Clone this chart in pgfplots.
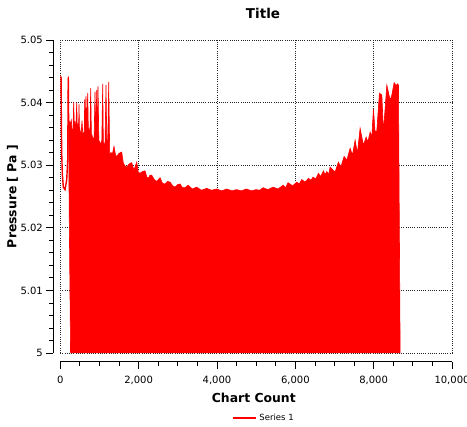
\documentclass[border=0pt]{standalone}
\usepackage{fontspec}
\setmainfont{DejaVu Sans}
\usepackage{pgfplots}
\pgfplotsset{compat=1.18}
\begin{document}
\begin{tikzpicture}
\begin{axis}[
 at={(0,0)}, anchor=south west,
 scale only axis, width=391.7bp, height=313bp,
 xmin=0, xmax=10000, ymin=5, ymax=5.05,
 axis lines*=left,
 axis x line shift=8.7bp, axis y line shift=7bp,
 axis line style={black, line width=0.8bp},
 xtick={0,2000,4000,6000,8000,10000},
 ytick={5,5.01,5.02,5.03,5.04,5.05},
 minor x tick num=3, minor y tick num=4,
 tick align=outside,
 major tick length=7bp, minor tick length=4bp,
 tick style={black, line width=0.8bp},
 grid=major,
 major grid style={black!85, line width=0.8bp, dash pattern=on 1bp off 1.2bp},
 scaled ticks=false,
 /pgf/number format/assume math mode=true,
 xticklabel style={/pgf/number format/1000 sep={,}, font=\fontsize{10bp}{12bp}\selectfont, yshift=-4bp},
 yticklabel style={/pgf/number format/fixed, /pgf/number format/precision=2, font=\fontsize{10bp}{12bp}\selectfont},
 title={Title},
 title style={at={(axis description cs:0.5175,1.067)}, anchor=center, font=\fontsize{13.5bp}{16bp}\selectfont\bfseries},
 xlabel={Chart Count},
 xlabel style={at={(axis description cs:0.494,-0.1438)}, anchor=center, font=\fontsize{12.4bp}{14bp}\selectfont\bfseries},
 ylabel={Pressure [ Pa ]},
 ylabel style={at={(axis description cs:-0.122,0.50)}, anchor=center, font=\fontsize{12.4bp}{14bp}\selectfont\bfseries},
 legend style={at={(axis description cs:0.52,-0.2077)}, anchor=center, draw=none, fill=none, font=\fontsize{8.5bp}{10bp}\selectfont},
 legend image code/.code={\draw[red, line width=2.2bp] (0bp,0bp) -- (23bp,0bp);},
]
\addplot[draw=red, fill=red, line width=0.6bp, forget plot] coordinates {
(262,5.0) (228,5.022) (200,5.0440) (214,5.0441) (222,5.0372) (250,5.0366) (281,5.0372)
(300,5.0356) (325,5.0357) (342,5.0401) (358,5.0360) (375,5.0370) (395,5.0352) (419,5.0400)
(436,5.0356) (452,5.0366) (466,5.0352) (478,5.0397) (492,5.0350) (504,5.0356) (525,5.0344)
(554,5.0371) (575,5.0349) (600,5.0352) (610,5.0348) (623,5.0405) (640,5.0352) (656,5.0410)
(672,5.0355) (700,5.0415) (718,5.0350) (733,5.0356) (755,5.0345) (776,5.0423) (795,5.0345)
(810,5.0348) (840,5.0340) (865,5.0346) (886,5.0417) (905,5.0340) (930,5.0420) (948,5.0338)
(963,5.0426) (985,5.0335) (1001,5.0338) (1030,5.0333) (1060,5.0340) (1083,5.0430) (1100,5.0330)
(1116,5.0334) (1140,5.0328) (1167,5.0428) (1190,5.0325) (1210,5.0330) (1236,5.0433) (1262,5.0318)
(1300,5.0320) (1330,5.0318) (1372,5.0330) (1410,5.0316) (1440,5.0314) (1500,5.0319) (1568,5.0321)
(1610,5.0303) (1650,5.0299) (1696,5.0297) (1760,5.0302) (1824,5.0304) (1880,5.0292) (1951,5.0305)
(1990,5.0289) (2035,5.0287) (2100,5.0290) (2163,5.0291) (2210,5.0281) (2248,5.0279) (2290,5.0284)
(2334,5.0284) (2400,5.0277) (2462,5.0274) (2546,5.0280) (2610,5.0271) (2674,5.0270) (2740,5.0274)
(2802,5.0273) (2870,5.0267) (2929,5.0265) (3000,5.0269) (3057,5.0270) (3120,5.0264) (3185,5.0264)
(3262,5.0268) (3370,5.0262) (3484,5.0265) (3600,5.0260) (3739,5.0263) (3860,5.0260) (3994,5.0262)
(4120,5.0259) (4250,5.0262) (4380,5.0259) (4500,5.0261) (4620,5.0259) (4750,5.0262) (4880,5.0259)
(5000,5.0261) (5090,5.0260) (5177,5.0264) (5300,5.0261) (5432,5.0265) (5560,5.0262) (5688,5.0268)
(5750,5.0264) (5815,5.0272) (5930,5.0267) (6038,5.0273) (6100,5.0270) (6165,5.0277) (6250,5.0273)
(6334,5.0279) (6400,5.0276) (6454,5.0281) (6520,5.0278) (6589,5.0287) (6650,5.0282) (6717,5.0291)
(6760,5.0285) (6804,5.0290) (6850,5.0285) (6888,5.0297) (7016,5.0289) (7100,5.0305) (7161,5.0297)
(7246,5.0314) (7315,5.0308) (7399,5.0327) (7458,5.0316) (7527,5.0340) (7585,5.0319) (7654,5.0359)
(7739,5.0332) (7808,5.0345) (7851,5.0337) (7910,5.0353) (7953,5.0345) (7994,5.0390) (8037,5.0353)
(8081,5.0355) (8147,5.0415) (8209,5.0412) (8249,5.0353) (8336,5.0428) (8421,5.0404) (8464,5.0412)
(8523,5.0432) (8574,5.0427) (8607,5.0430) (8633,5.0428) (8676,5.0)
};
\addplot[red, line width=1.4bp] coordinates {
(0,5.0410) (10,5.0441) (20,5.0440) (28,5.0360) (36,5.0320) (51,5.0287) (77,5.0265)
(120,5.0261) (163,5.0276) (189,5.0308) (204,5.0440)
};
\addlegendentry{Series 1}
\coordinate (sw) at (rel axis cs:0,0);
\end{axis}
\pgfresetboundingbox
\path[use as bounding box] ([shift={(-60.3bp,-74bp)}]sw) rectangle ([shift={(406.7bp,353bp)}]sw);
\end{tikzpicture}
\end{document}
